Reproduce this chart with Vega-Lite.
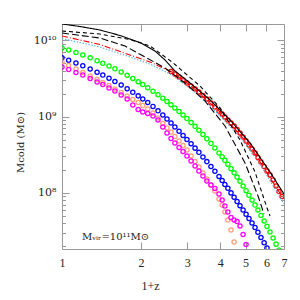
{
"$schema":"https://vega.github.io/schema/vega-lite/v6.json",
"width":222,"height":225,"autosize":"none",
"padding":{"left":62,"top":24,"right":16,"bottom":51},
"config":{"view":{"stroke":"#999","strokeWidth":1},"font":"Liberation Serif"},
"datasets":{
"pts":[
{"s":"g","x":1.00,"y":7.94e9},{"s":"g","x":1.06,"y":7.45e9},{"s":"g","x":1.13,"y":6.91e9},{"s":"g","x":1.20,"y":6.41e9},{"s":"g","x":1.28,"y":5.89e9},{"s":"g","x":1.36,"y":5.41e9},{"s":"g","x":1.43,"y":5.01e9},{"s":"g","x":1.51,"y":4.60e9},{"s":"g","x":1.59,"y":4.23e9},{"s":"g","x":1.68,"y":3.84e9},
{"s":"g","x":1.77,"y":3.48e9},{"s":"g","x":1.86,"y":3.16e9},{"s":"g","x":1.95,"y":2.87e9},{"s":"g","x":2.03,"y":2.64e9},{"s":"g","x":2.12,"y":2.39e9},{"s":"g","x":2.22,"y":2.15e9},{"s":"g","x":2.32,"y":1.93e9},{"s":"g","x":2.42,"y":1.74e9},{"s":"g","x":2.51,"y":1.58e9},{"s":"g","x":2.60,"y":1.43e9},
{"s":"g","x":2.69,"y":1.30e9},{"s":"g","x":2.79,"y":1.17e9},{"s":"g","x":2.89,"y":1.05e9},{"s":"g","x":2.99,"y":9.44e8},{"s":"g","x":3.10,"y":8.39e8},{"s":"g","x":3.21,"y":7.45e8},{"s":"g","x":3.32,"y":6.62e8},{"s":"g","x":3.44,"y":5.82e8},{"s":"g","x":3.56,"y":5.13e8},{"s":"g","x":3.69,"y":4.46e8},
{"s":"g","x":3.82,"y":3.88e8},{"s":"g","x":3.96,"y":3.34e8},{"s":"g","x":4.07,"y":2.97e8},{"s":"g","x":4.17,"y":2.67e8},{"s":"g","x":4.28,"y":2.37e8},{"s":"g","x":4.40,"y":2.08e8},{"s":"g","x":4.52,"y":1.83e8},{"s":"g","x":4.64,"y":1.61e8},{"s":"g","x":4.76,"y":1.42e8},{"s":"g","x":4.89,"y":1.23e8},
{"s":"g","x":5.02,"y":1.07e8},{"s":"g","x":5.15,"y":9.33e7},{"s":"g","x":5.29,"y":8.04e7},{"s":"g","x":5.43,"y":6.92e7},{"s":"g","x":5.57,"y":5.96e7},{"s":"g","x":5.72,"y":5.07e7},{"s":"g","x":5.88,"y":4.28e7},{"s":"g","x":6.03,"y":3.64e7},{"s":"g","x":6.19,"y":3.07e7},{"s":"g","x":6.36,"y":2.56e7},
{"s":"g","x":6.53,"y":2.13e7},{"s":"g","x":6.70,"y":1.78e7},
{"s":"b","x":1.00,"y":5.89e9},{"s":"b","x":1.06,"y":5.48e9},{"s":"b","x":1.13,"y":5.05e9},{"s":"b","x":1.20,"y":4.63e9},{"s":"b","x":1.28,"y":4.21e9},{"s":"b","x":1.36,"y":3.82e9},{"s":"b","x":1.43,"y":3.50e9},{"s":"b","x":1.51,"y":3.18e9},{"s":"b","x":1.59,"y":2.88e9},{"s":"b","x":1.68,"y":2.59e9},
{"s":"b","x":1.77,"y":2.32e9},{"s":"b","x":1.86,"y":2.08e9},{"s":"b","x":1.95,"y":1.87e9},{"s":"b","x":2.03,"y":1.70e9},{"s":"b","x":2.12,"y":1.53e9},{"s":"b","x":2.22,"y":1.36e9},{"s":"b","x":2.32,"y":1.19e9},{"s":"b","x":2.42,"y":1.05e9},{"s":"b","x":2.51,"y":9.29e8},{"s":"b","x":2.60,"y":8.24e8},
{"s":"b","x":2.69,"y":7.31e8},{"s":"b","x":2.79,"y":6.43e8},{"s":"b","x":2.89,"y":5.64e8},{"s":"b","x":2.99,"y":5.01e8},{"s":"b","x":3.10,"y":4.41e8},{"s":"b","x":3.21,"y":3.86e8},{"s":"b","x":3.32,"y":3.40e8},{"s":"b","x":3.44,"y":2.95e8},{"s":"b","x":3.56,"y":2.57e8},{"s":"b","x":3.69,"y":2.22e8},
{"s":"b","x":3.82,"y":1.92e8},{"s":"b","x":3.96,"y":1.64e8},{"s":"b","x":4.07,"y":1.45e8},{"s":"b","x":4.17,"y":1.29e8},{"s":"b","x":4.28,"y":1.15e8},{"s":"b","x":4.40,"y":1.00e8},{"s":"b","x":4.52,"y":8.77e7},{"s":"b","x":4.64,"y":7.71e7},{"s":"b","x":4.76,"y":6.79e7},{"s":"b","x":4.89,"y":5.97e7},
{"s":"b","x":5.02,"y":5.26e7},{"s":"b","x":5.15,"y":4.62e7},{"s":"b","x":5.29,"y":4.03e7},{"s":"b","x":5.43,"y":3.51e7},{"s":"b","x":5.57,"y":3.05e7},{"s":"b","x":5.72,"y":2.60e7},{"s":"b","x":5.88,"y":2.22e7},{"s":"b","x":6.03,"y":1.89e7},{"s":"b","x":6.19,"y":1.59e7},
{"s":"o","x":1.00,"y":5.20e9},{"s":"o","x":1.06,"y":4.68e9},{"s":"o","x":1.13,"y":4.21e9},{"s":"o","x":1.20,"y":3.78e9},{"s":"o","x":1.28,"y":3.41e9},{"s":"o","x":1.36,"y":3.06e9},{"s":"o","x":1.43,"y":2.80e9},{"s":"o","x":1.51,"y":2.56e9},{"s":"o","x":1.59,"y":2.30e9},{"s":"o","x":1.68,"y":2.07e9},
{"s":"o","x":1.77,"y":1.86e9},{"s":"o","x":1.86,"y":1.68e9},{"s":"o","x":1.95,"y":1.53e9},{"s":"o","x":2.03,"y":1.40e9},{"s":"o","x":2.12,"y":1.26e9},{"s":"o","x":2.22,"y":1.11e9},{"s":"o","x":2.32,"y":9.59e8},{"s":"o","x":2.42,"y":8.12e8},{"s":"o","x":2.51,"y":7.09e8},{"s":"o","x":2.60,"y":6.28e8},
{"s":"o","x":2.69,"y":5.48e8},{"s":"o","x":2.79,"y":4.79e8},{"s":"o","x":2.89,"y":4.18e8},{"s":"o","x":2.99,"y":3.65e8},{"s":"o","x":3.10,"y":3.05e8},{"s":"o","x":3.21,"y":2.58e8},{"s":"o","x":3.32,"y":2.19e8},{"s":"o","x":3.44,"y":1.82e8},{"s":"o","x":3.56,"y":1.52e8},{"s":"o","x":3.69,"y":1.27e8},
{"s":"o","x":3.82,"y":1.06e8},{"s":"o","x":3.96,"y":8.32e7},{"s":"o","x":4.07,"y":6.94e7},{"s":"o","x":4.17,"y":5.62e7},{"s":"o","x":4.28,"y":4.42e7},{"s":"o","x":4.40,"y":3.26e7},{"s":"o","x":4.52,"y":2.27e7},{"s":"o","x":4.64,"y":1.58e7},
{"s":"m","x":1.00,"y":4.47e9},{"s":"m","x":1.06,"y":4.14e9},{"s":"m","x":1.13,"y":3.78e9},{"s":"m","x":1.20,"y":3.51e9},{"s":"m","x":1.28,"y":3.16e9},{"s":"m","x":1.36,"y":2.84e9},{"s":"m","x":1.43,"y":2.63e9},{"s":"m","x":1.51,"y":2.37e9},{"s":"m","x":1.59,"y":2.17e9},{"s":"m","x":1.68,"y":1.92e9},
{"s":"m","x":1.77,"y":1.70e9},{"s":"m","x":1.86,"y":1.42e9},{"s":"m","x":1.95,"y":1.24e9},{"s":"m","x":2.03,"y":1.15e9},{"s":"m","x":2.12,"y":1.10e9},{"s":"m","x":2.22,"y":1.02e9},{"s":"m","x":2.32,"y":9.03e8},{"s":"m","x":2.42,"y":7.31e8},{"s":"m","x":2.51,"y":6.10e8},{"s":"m","x":2.60,"y":5.16e8},
{"s":"m","x":2.69,"y":4.51e8},{"s":"m","x":2.79,"y":3.94e8},{"s":"m","x":2.89,"y":3.49e8},{"s":"m","x":2.99,"y":3.05e8},{"s":"m","x":3.10,"y":2.62e8},{"s":"m","x":3.21,"y":2.25e8},{"s":"m","x":3.32,"y":1.94e8},{"s":"m","x":3.44,"y":1.67e8},{"s":"m","x":3.56,"y":1.43e8},{"s":"m","x":3.69,"y":1.27e8},
{"s":"m","x":3.82,"y":1.14e8},{"s":"m","x":3.96,"y":9.67e7},{"s":"m","x":4.07,"y":8.07e7},{"s":"m","x":4.17,"y":6.74e7},{"s":"m","x":4.28,"y":5.62e7},{"s":"m","x":4.40,"y":4.76e7},{"s":"m","x":4.52,"y":4.42e7},{"s":"m","x":4.64,"y":4.22e7},{"s":"m","x":4.76,"y":3.68e7},{"s":"m","x":4.89,"y":2.85e7},
{"s":"m","x":5.02,"y":2.11e7},{"s":"m","x":5.15,"y":1.54e7},
{"s":"r","x":2.60,"y":3.90e9},{"s":"r","x":2.69,"y":3.62e9},{"s":"r","x":2.79,"y":3.30e9},{"s":"r","x":2.89,"y":3.02e9},{"s":"r","x":2.99,"y":2.76e9},{"s":"r","x":3.10,"y":2.52e9},{"s":"r","x":3.21,"y":2.30e9},{"s":"r","x":3.32,"y":2.10e9},{"s":"r","x":3.44,"y":1.89e9},{"s":"r","x":3.56,"y":1.70e9},
{"s":"r","x":3.69,"y":1.51e9},{"s":"r","x":3.82,"y":1.34e9},{"s":"r","x":3.96,"y":1.18e9},{"s":"r","x":4.07,"y":1.08e9},{"s":"r","x":4.17,"y":9.88e8},{"s":"r","x":4.28,"y":9.03e8},{"s":"r","x":4.40,"y":8.25e8},{"s":"r","x":4.52,"y":7.53e8},{"s":"r","x":4.64,"y":6.78e8},{"s":"r","x":4.76,"y":6.10e8},
{"s":"r","x":4.89,"y":5.40e8},{"s":"r","x":5.02,"y":4.79e8},{"s":"r","x":5.15,"y":4.24e8},{"s":"r","x":5.29,"y":3.76e8},{"s":"r","x":5.43,"y":3.33e8},{"s":"r","x":5.57,"y":2.91e8},{"s":"r","x":5.72,"y":2.54e8},{"s":"r","x":5.88,"y":2.22e8},{"s":"r","x":6.03,"y":1.94e8},{"s":"r","x":6.19,"y":1.72e8},
{"s":"r","x":6.36,"y":1.48e8},{"s":"r","x":6.53,"y":1.23e8},{"s":"r","x":6.70,"y":1.04e8},{"s":"r","x":6.88,"y":8.97e7}
],
"lns":[
{"s":"lb","x":1,"y":1.056e10},{"s":"lb","x":1.395,"y":8.17e9},{"s":"lb","x":1.815,"y":6.04e9},{"s":"lb","x":2.163,"y":4.89e9},{"s":"lb","x":2.623,"y":3.51e9},{"s":"lb","x":3.352,"y":1.86e9},{"s":"lb","x":3.995,"y":1.02e9},{"s":"lb","x":4.76,"y":5.40e8},{"s":"lb","x":5.672,"y":2.39e8},{"s":"lb","x":7,"y":7.15e7},
{"s":"rd","x":1,"y":1.139e10},{"s":"rd","x":1.395,"y":8.81e9},{"s":"rd","x":1.815,"y":6.42e9},{"s":"rd","x":2.163,"y":5.20e9},{"s":"rd","x":2.623,"y":3.84e9},{"s":"rd","x":3.071,"y":2.60e9},{"s":"rd","x":3.995,"y":1.15e9},{"s":"rd","x":5.196,"y":4.12e8},{"s":"rd","x":6.939,"y":8.57e7},
{"s":"k3","x":1,"y":1.246e10},{"s":"k3","x":1.395,"y":1.072e10},{"s":"k3","x":1.737,"y":8.42e9},{"s":"k3","x":2.07,"y":6.04e9},{"s":"k3","x":2.466,"y":4.34e9},{"s":"k3","x":2.939,"y":2.76e9},{"s":"k3","x":3.503,"y":1.60e9},{"s":"k3","x":4.173,"y":7.53e8},{"s":"k3","x":4.974,"y":2.47e8},{"s":"k3","x":5.574,"y":9.11e7},{"s":"k3","x":5.876,"y":5.29e7},
{"s":"k2","x":1,"y":1.324e10},{"s":"k2","x":1.395,"y":1.209e10},{"s":"k2","x":1.815,"y":1.024e10},{"s":"k2","x":2.163,"y":8.42e9},{"s":"k2","x":2.623,"y":5.20e9},{"s":"k2","x":3.352,"y":2.52e9},{"s":"k2","x":3.995,"y":1.30e9},{"s":"k2","x":4.76,"y":4.94e8},{"s":"k2","x":5.43,"y":1.88e8},{"s":"k2","x":6.032,"y":6.34e7},{"s":"k2","x":6.193,"y":4.98e7},
{"s":"k1","x":1,"y":1.636e10},{"s":"k1","x":1.171,"y":1.517e10},{"s":"k1","x":1.395,"y":1.365e10},{"s":"k1","x":1.663,"y":1.156e10},{"s":"k1","x":2.0,"y":9.22e9},{"s":"k1","x":2.26,"y":7.24e9},{"s":"k1","x":2.466,"y":5.52e9},{"s":"k1","x":2.693,"y":3.96e9},{"s":"k1","x":3.071,"y":2.76e9},{"s":"k1","x":3.66,"y":1.65e9},{"s":"k1","x":4.361,"y":9.03e8},{"s":"k1","x":5.196,"y":4.51e8},{"s":"k1","x":6.193,"y":1.88e8},{"s":"k1","x":7,"y":9.67e7}
],
"ann":[{"x":1.191,"y":2.41e7,"t":"Mᵥᵢᵣ=10¹¹M⊙"}]
},
"layer":[
{"data":{"name":"pts"},
 "mark":{"type":"point","shape":"circle","filled":false,"size":18,"strokeWidth":1.3,"opacity":1,"clip":true},
 "encoding":{
  "x":{"field":"x","type":"quantitative","scale":{"type":"log","domain":[1,7],"nice":false},
   "axis":{"orient":"bottom","values":[1,2,3,4,5,6,7],"format":"d","title":"1+z","domain":false,"grid":false,"tickSize":-7,"tickColor":"#999","labelPadding":15,"labelFont":"Liberation Serif","labelFontSize":12,"labelColor":"#222","labelFlush":false,"labelOverlap":false,"titleFont":"Liberation Serif","titleFontSize":12,"titleFontWeight":"normal","titleColor":"#222","titleX":88,"titleY":36,"titleBaseline":"middle"}},
  "y":{"field":"y","type":"quantitative","scale":{"type":"log","domain":[1.839e7,1.636e10],"nice":false},
   "axis":{"orient":"left","values":[2e7,3e7,4e7,5e7,6e7,7e7,8e7,9e7,1e8,2e8,3e8,4e8,5e8,6e8,7e8,8e8,9e8,1e9,2e9,3e9,4e9,5e9,6e9,7e9,8e9,9e9,1e10],
    "labelExpr":"datum.value == 1e10 ? '10¹⁰' : datum.value == 1e9 ? '10⁹' : datum.value == 1e8 ? '10⁸' : ''",
    "title":"Mcold (M⊙)","domain":false,"grid":false,
    "tickSize":{"condition":{"test":"datum.value == 1e8 || datum.value == 1e9 || datum.value == 1e10","value":-7},"value":-3.5},
    "tickColor":"#999","labelPadding":13,"labelFont":"DejaVu Serif","labelFontSize":11,"labelColor":"#222","labelOverlap":false,"labelFlush":false,
    "titleFont":"DejaVu Serif","titleFontSize":10,"titleFontWeight":"normal","titleColor":"#222","titleX":-42,"titleY":118,"titleBaseline":"middle"}},
  "color":{"field":"s","type":"nominal","scale":{"domain":["r","g","b","o","m","k1","k2","k3","rd","lb"],"range":["#ff0000","#00ff00","#0000ff","#ffa07a","#ff00ff","#000000","#000000","#000000","#ff0000","#5ab4e6"]},"legend":null}
 }},
{"data":{"name":"lns"},
 "mark":{"type":"line","strokeWidth":1.1,"clip":true},
 "encoding":{
  "x":{"field":"x","type":"quantitative","axis":null},
  "y":{"field":"y","type":"quantitative","axis":null},
  "color":{"field":"s","type":"nominal","legend":null},
  "strokeDash":{"field":"s","type":"nominal","scale":{"domain":["k1","k2","k3","rd","lb"],"range":[[1,0],[4,3],[7,3],[6,2,1,2],[1.5,1.5]]},"legend":null}
 }},
{"data":{"name":"ann"},
 "mark":{"type":"text","align":"left","baseline":"alphabetic","font":"DejaVu Serif","fontSize":10,"color":"#222"},
 "encoding":{
  "x":{"field":"x","type":"quantitative","axis":{"orient":"top","values":[2,3,4,5,6],"labels":false,"title":null,"domain":false,"grid":false,"tickSize":-7,"tickColor":"#999"}},
  "y":{"field":"y","type":"quantitative","axis":{"orient":"right","values":[2e7,3e7,4e7,5e7,6e7,7e7,8e7,9e7,1e8,2e8,3e8,4e8,5e8,6e8,7e8,8e8,9e8,1e9,2e9,3e9,4e9,5e9,6e9,7e9,8e9,9e9,1e10],"labels":false,"title":null,"domain":false,"grid":false,
    "tickSize":{"condition":{"test":"datum.value == 1e8 || datum.value == 1e9 || datum.value == 1e10","value":-7},"value":-3.5},"tickColor":"#999"}},
  "text":{"field":"t"}
 }}
],
"resolve":{"axis":{"x":"independent","y":"independent"}}
}
